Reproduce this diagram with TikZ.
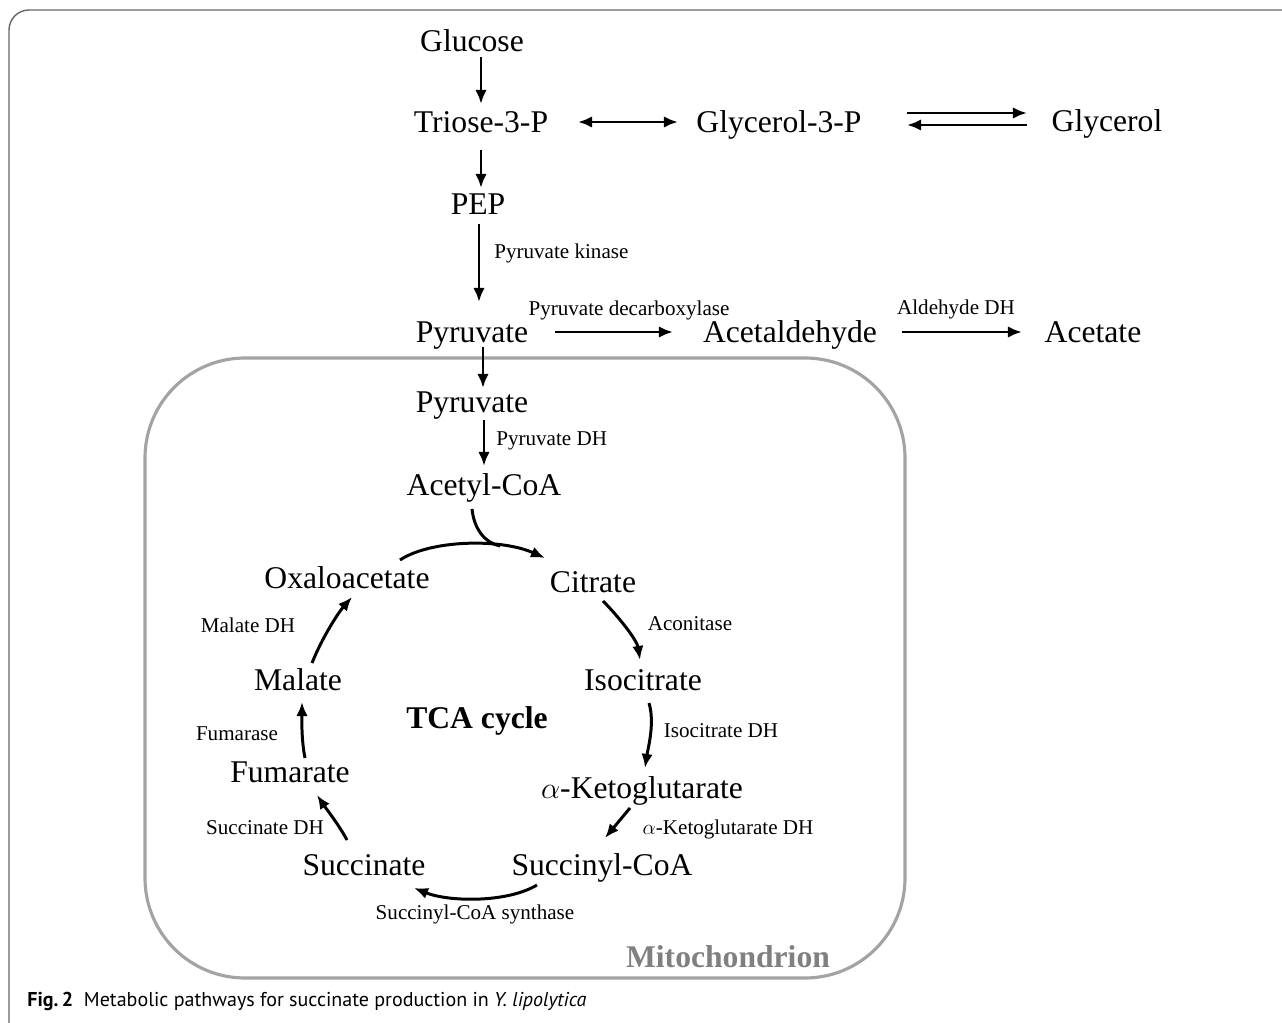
\documentclass[tikz,border=0pt]{standalone}
\usepackage{fontspec}
\setmainfont{Liberation Serif}
\newfontfamily\capfont{PT Sans}
\usepackage{tikz}
\usetikzlibrary{arrows,arrows.meta,calc}
\definecolor{memgray}{gray}{0.64}
\definecolor{mitogray}{gray}{0.5}
\definecolor{framegray}{gray}{0.4}
\tikzstyle{met}=[inner sep=0pt,% metabolite names, centred on the capitals
text height=12pt,text depth=0pt,font=\fontsize{18}{20}\selectfont]
\tikzstyle{enz}=[inner sep=0pt,text height=8pt,text depth=0pt,font=\fontsize{12}{14}\selectfont]
\tikzstyle{rxn}=[->, >={Latex[length=8pt,width=6.5pt]}, line width=1.7pt]
\tikzstyle{mem}=[draw=memgray, line width=1.8pt, rounded corners=2cm]

\begin{document}
\begin{tikzpicture}[x=0.02cm,y=-0.02cm]
\useasboundingbox (0,0) rectangle (1282,1023);
\draw[framegray, line width=0.8pt, rounded corners=0.4cm] (9,1023) -- (9,10) -- (1282,10);
\draw[mem] (145,358) rectangle (905,978);
% glycolysis
\node[met] (glc) at (472,41) {Glucose};
\node[met] (tri) at (481,122) {Triose-3-P};
\node[met] (g3p) at (779,122) {Glycerol-3-P};
\node[met] (gly) at (1107,121) {Glycerol};
\node[met] (pep) at (478,204) {PEP};
\node[enz,anchor=west] (pk) at (494,251) {Pyruvate kinase};
\node[met] (pyr) at (472,332) {Pyruvate};
\node[enz] (pdc) at (629,308) {Pyruvate decarboxylase};
\node[met] (ald) at (790,332) {Acetaldehyde};
\node[enz] (adh) at (956,307) {Aldehyde DH};
\node[met] (ace) at (1093,332) {Acetate};
% mitochondrion
\node[met] (pyrm) at (472,402) {Pyruvate};
\node[enz,anchor=west] (pdh) at (496,438) {Pyruvate DH};
\node[met] (acoa) at (484,485) {Acetyl-CoA};
\node[met] (oaa) at (347,578) {Oxaloacetate};
\node[met] (cit) at (593,582) {Citrate};
\node[enz] (acon) at (690,623) {Aconitase};
\node[met] (icit) at (643,680) {Isocitrate};
\node[enz] (idh) at (721,730) {Isocitrate DH};
\node[met] (akg) at (642,788) {$\alpha$-Ketoglutarate};
\node[enz] (akgdh) at (728,827) {$\alpha$-Ketoglutarate DH};
\node[met] (scoa) at (602,865) {Succinyl-CoA};
\node[met] (succ) at (364,865) {Succinate};
\node[enz] (scs) at (475,912) {Succinyl-CoA synthase};
\node[enz] (sdh) at (265,827) {Succinate DH};
\node[met] (fum) at (290,772) {Fumarate};
\node[enz] (fumase) at (237,733) {Fumarase};
\node[met] (mal) at (298,680) {Malate};
\node[enz] (mdh) at (248,625) {Malate DH};
\node[met,font=\fontsize{18}{20}\selectfont\bfseries] (tca) at (477,718) {TCA cycle};
\node[met,font=\fontsize{18}{20}\selectfont\bfseries,text=mitogray] (mito) at (728,957) {Mitochondrion};
\node[anchor=west,inner sep=0pt,font=\capfont\fontsize{11.4}{13}\selectfont] (cap) at (27,1001)
  {\textbf{Fig.\,2}\ \ Metabolic pathways for succinate production in \textit{Y. lipolytica}};

\draw[rxn] ($(glc)+(9,16)$) -- ($(tri)+(0,-18)$);
\draw[rxn] ($(tri)+(0,28)$) -- ($(pep)+(3,-16)$);
\draw[rxn] ($(pep)+(1,20)$) -- ($(pyr)+(7,-30)$);
\draw[rxn,<->] ($(tri)+(97,0)$) -- ($(g3p)+(-101,0)$);
\draw[rxn] ($(g3p)+(128,-9)$) -- ($(gly)+(-80,-8)$);
\draw[rxn] ($(gly)+(-80,4)$) -- ($(g3p)+(128,3)$);
\draw[rxn] ($(pyr)+(83,0)$) -- ($(ald)+(-117,0)$);
\draw[rxn] ($(ald)+(112,0)$) -- ($(ace)+(-71,0)$);
\draw[rxn] ($(pyr)+(11,15)$) -- ($(pyrm)+(11,-14)$);
\draw[rxn] ($(pyrm)+(12,18)$) -- ($(acoa)+(0,-19)$);

\draw[rxn] ($(oaa)+(53,-18)$) .. controls +(30,-20) and +(-45,-20) .. ($(cit)+(-48,-24)$);
\draw[line width=1.7pt] ($(acoa)+(-12,24)$) .. controls +(2,20) and +(-15,-3) .. ($(acoa)+(16,61)$);
\draw[rxn] ($(cit)+(10,19)$) .. controls +(15,15) and +(-3,-20) .. ($(icit)+(-3,-20)$);
\draw[rxn] ($(icit)+(6,23)$) .. controls +(6,20) and +(3,-20) .. ($(akg)+(3,-20)$);
\draw[rxn] ($(akg)+(-12,20)$) -- ($(scoa)+(3,-27)$);
\draw[rxn] ($(scoa)+(-65,20)$) .. controls +(-30,18) and +(35,14) .. ($(succ)+(50,23)$);
\draw[rxn] ($(succ)+(-17,-25)$) .. controls +(-8,-15) and +(8,12) .. ($(fum)+(27,23)$);
\draw[rxn] ($(fum)+(15,-14)$) .. controls +(-4,-20) and +(0,15) .. ($(mal)+(4,22)$);
\draw[rxn] ($(mal)+(14,-17)$) .. controls +(10,-25) and +(-14,16) .. ($(oaa)+(5,19)$);
\end{tikzpicture}
\end{document}
